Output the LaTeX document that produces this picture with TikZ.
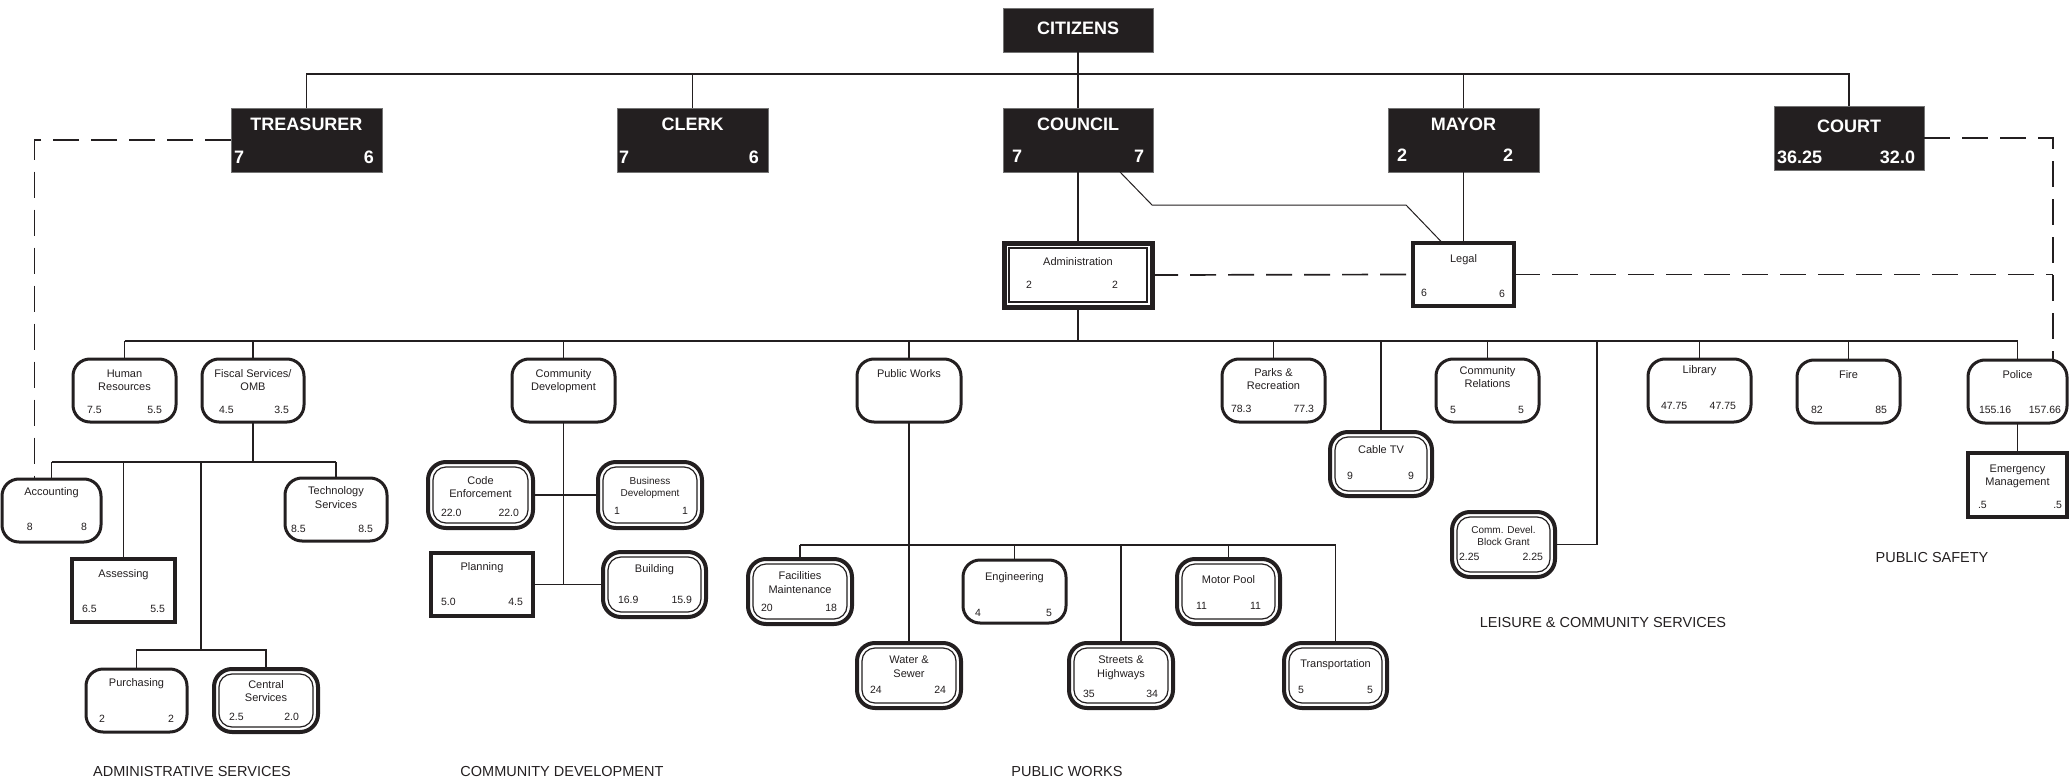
\documentclass[tikz,border=0pt]{standalone}
\usepackage{fontspec}
\setmainfont{Liberation Sans}
\usetikzlibrary{fit,calc}
\definecolor{ink}{RGB}{35,31,32}
\newcounter{lblc}
\tikzset{
  every node/.style={inner sep=0pt, outer sep=0pt},
  blk/.style={fill=ink, draw=black!55, line width=0.6pt},
  rs/.style={draw=ink, fill=white, line width=3pt, rounded corners=17pt},
  rd/.style={draw=ink, fill=white, line width=4pt, rounded corners=18pt},
  rdin/.style={draw=ink, line width=1.2pt, rounded corners=13pt},
  sq/.style={draw=ink, fill=white, line width=3.5pt},
  sqd/.style={draw=ink, fill=white, line width=5pt},
  sqdin/.style={draw=ink, line width=1.3pt},
  conn/.style={draw=ink, line width=1.6pt},
  thinconn/.style={draw=ink, line width=1pt},
  dashline/.style={draw=ink, line width=1.7pt, dash pattern=on 26pt off 12pt},
  bigt/.style={text=white, anchor=base, font=\fontsize{18}{20}\selectfont\bfseries},
  bigL/.style={bigt, anchor=base west},
  bigR/.style={bigt, anchor=base east},
  ttl/.style={text=ink, anchor=base, font=\fontsize{11}{13}\selectfont},
  ttls/.style={ttl, font=\fontsize{10}{12}\selectfont},
  numL/.style={text=ink, anchor=base west, font=\fontsize{10.5}{12}\selectfont},
  numR/.style={numL, anchor=base east},
  sec/.style={text=ink, anchor=base, font=\fontsize{14.5}{16}\selectfont},
}
\newcommand\tx[4][ttl]{\stepcounter{lblc}\node[#1] (t\arabic{lblc}) at (#2,#3) {#4};}
\newcommand\bx[6]{\node[#6, fit={(#2,#3)(#4,#5)}] (#1) {};}
\newcommand\dbx[5]{\bx{#1}{#2}{#3}{#4}{#5}{rd}\node[rdin, fit={(#2+5,#3+5)(#4-5,#5-5)}] (#1i) {};}
\begin{document}
\begin{tikzpicture}[x=1pt,y=-1pt]
\useasboundingbox (0,0) rectangle (2070,784);

% ---------- top level (black boxes)
\bx{cit}{1003}{8}{1153}{52}{blk}
\bx{tre}{231}{108}{382}{172}{blk}
\bx{clk}{617}{108}{768}{172}{blk}
\bx{cou}{1003}{108}{1153}{172}{blk}
\bx{may}{1388}{108}{1539}{172}{blk}
\bx{crt}{1774}{106}{1924}{170}{blk}

% ---------- second level
\bx{adm}{1004}{243}{1152}{307}{sqd}
\node[sqdin, fit={(1009,248)(1147,302)}] (admi) {};
\bx{leg}{1413}{243}{1514}{306}{sq}

% ---------- row 1
\bx{hr}{73}{359}{176}{422}{rs}
\bx{fis}{202}{359}{304}{422}{rs}
\bx{cd}{512}{359}{615}{422}{rs}
\bx{pw}{857}{359}{961}{422}{rs}
\bx{prk}{1222}{359}{1325}{422}{rs}
\bx{cr}{1436}{359}{1539}{422}{rs}
\bx{lib}{1648}{359}{1751}{422}{rs}
\bx{fir}{1797}{360}{1900}{423}{rs}
\bx{pol}{1968}{360}{2067}{423}{rs}

% ---------- administrative services
\bx{acc}{2}{479}{101}{542}{rs}
\bx{tec}{285}{478}{387}{541}{rs}
\bx{ass}{72}{559}{175}{622}{sq}
\bx{pur}{86}{669}{187}{732}{rs}
\dbx{cen}{214}{669}{318}{732}

% ---------- community development
\dbx{cod}{428}{462}{533}{528}
\dbx{bdv}{598}{462}{702}{528}
\bx{pla}{431}{553}{533}{616}{sq}
\dbx{bld}{603}{552}{706}{617}

% ---------- public works
\dbx{fac}{748}{559}{852}{624}
\bx{eng}{963}{560}{1066}{623}{rs}
\dbx{mot}{1177}{559}{1280}{624}
\dbx{wat}{857}{643}{961}{708}
\dbx{str}{1069}{643}{1173}{708}
\dbx{tra}{1284}{643}{1387}{708}

% ---------- leisure & community / safety
\dbx{cab}{1330}{432}{1432}{496}
\dbx{cdbg}{1452}{512}{1555}{577}
\bx{em}{1968}{453}{2067}{517}{sq}

% ---------- helper coordinates
\coordinate (topbus) at (0,74);
\coordinate (mainbus) at (0,341);
\coordinate (fisbus) at (0,462);
\coordinate (psub) at (201,650);
\coordinate (pwbus) at (0,545);
\coordinate (cdbgj) at (1597,544.5);
\coordinate (cl1) at (1152,205);
\coordinate (cl2) at (1406,205);
\coordinate (rdash) at (2053,0);

% ---------- connectors
\draw[conn] (tre.north) -- (tre.north |- topbus) -- (crt.north |- topbus) -- (crt.north);
\draw[conn] (clk.north) -- (clk.north |- topbus);
\draw[conn] (may.north) -- (may.north |- topbus);
\draw[conn] (cit.south) -- (cou.north);
\draw[conn] (cou.south) -- (adm.north);
\draw[conn] (may.south) -- (leg.north);
\draw[thinconn] ([xshift=42pt]cou.south) -- (cl1) -- (cl2) -- ([xshift=-21pt]leg.north);
\draw[conn] (adm.south) -- (adm.south |- mainbus);
\draw[conn] (hr.north |- mainbus) -- (pol.north |- mainbus);
\foreach \n in {hr,fis,cd,pw,prk,cab,cr,lib,fir,pol}
  \draw[conn] (\n.north) -- (\n.north |- mainbus);
\draw[conn] (cdbg.east) -- (cdbgj) -- (cdbgj |- mainbus);
% fiscal
\draw[conn] (fis.south) -- (fis.south |- fisbus);
\draw[conn] (acc.north |- fisbus) -- (tec.north |- fisbus);
\foreach \n in {acc,ass,tec}
  \draw[conn] (\n.north) -- (\n.north |- fisbus);
\draw[conn] (psub |- fisbus) -- (psub);
\draw[conn] (pur.north) -- (pur.north |- psub) -- (cen.north |- psub) -- (cen.north);
% community development
\draw[conn] (cd.south) -- (cd.south |- pla.east);
\draw[conn] (cod.east) -- (bdv.west);
\draw[conn] (pla.east) -- (bld.west);
% public works
\draw[conn] (pw.south) -- (wat.north);
\draw[conn] (fac.north |- pwbus) -- (tra.north |- pwbus);
\foreach \n in {fac,eng,mot,str,tra}
  \draw[conn] (\n.north) -- (\n.north |- pwbus);
% police
\draw[conn] (pol.south) -- (em.north);
% dashed links
\draw[dashline] (tre.west) -| ([xshift=-17pt]acc.north);
\draw[dashline] (crt.east) -| (rdash |- pol.north);
\draw[dashline] (adm.east) -- (leg.west);
\draw[dashline] (leg.east) -- (rdash |- leg.east);

% ---------- texts: black boxes
\tx[bigt]{1078}{35}{CITIZENS}
\tx[bigt]{306.5}{130}{TREASURER}
\tx[bigL]{234}{163}{7}\tx[bigR]{374}{163}{6}
\tx[bigt]{692.5}{130}{CLERK}
\tx[bigL]{619}{163}{7}\tx[bigR]{759}{163}{6}
\tx[bigt]{1078}{130}{COUNCIL}
\tx[bigL]{1012}{162}{7}\tx[bigR]{1144}{162}{7}
\tx[bigt]{1463.5}{130}{MAYOR}
\tx[bigL]{1397}{161}{2}\tx[bigR]{1513}{161}{2}
\tx[bigt]{1849}{132}{COURT}
\tx[bigL]{1777}{163}{36.25}\tx[bigR]{1915}{163}{32.0}

% ---------- texts: second level
\tx{1078}{265}{Administration}
\tx[numL]{1026}{288}{2}\tx[numR]{1118}{288}{2}
\tx{1463.5}{262}{Legal}
\tx[numL]{1421}{296}{6}\tx[numR]{1505}{297}{6}

% ---------- row 1
\tx{124.5}{377}{Human}\tx{124.5}{390}{Resources}
\tx[numL]{87}{413}{7.5}\tx[numR]{162}{413}{5.5}
\tx{253}{377}{Fiscal Services/}\tx{253}{390}{OMB}
\tx[numL]{219}{413}{4.5}\tx[numR]{289}{413}{3.5}
\tx{563.5}{377}{Community}\tx{563.5}{390}{Development}
\tx{909}{377}{Public Works}
\tx{1273.5}{376}{Parks \&}\tx{1273.5}{389}{Recreation}
\tx[numL]{1231}{412}{78.3}\tx[numR]{1314}{412}{77.3}
\tx{1487.5}{374}{Community}\tx{1487.5}{387}{Relations}
\tx[numL]{1450}{413}{5}\tx[numR]{1524}{413}{5}
\tx{1699.5}{373}{Library}
\tx[numL]{1661}{409}{47.75}\tx[numR]{1736}{409}{47.75}
\tx{1848.5}{378}{Fire}
\tx[numL]{1811}{413}{82}\tx[numR]{1887}{413}{85}
\tx{2017.5}{378}{Police}
\tx[numL]{1979}{413}{155.16}\tx[numR]{2061}{413}{157.66}

% ---------- administrative services
\tx{51.5}{495}{Accounting}
\tx[numL]{27}{530}{8}\tx[numR]{87}{530}{8}
\tx{336}{494}{Technology}\tx{336}{508}{Services}
\tx[numL]{291}{532}{8.5}\tx[numR]{373}{532}{8.5}
\tx{123.5}{577}{Assessing}
\tx[numL]{82}{612}{6.5}\tx[numR]{165}{612}{5.5}
\tx{136.5}{686}{Purchasing}
\tx[numL]{99}{722}{2}\tx[numR]{174}{722}{2}
\tx{266}{688}{Central}\tx{266}{701}{Services}
\tx[numL]{229}{720}{2.5}\tx[numR]{299}{720}{2.0}

% ---------- community development
\tx{480.5}{484}{Code}\tx{480.5}{497}{Enforcement}
\tx[numL]{441}{516}{22.0}\tx[numR]{519}{516}{22.0}
\tx[ttls]{650}{484}{Business}\tx[ttls]{650}{496}{Development}
\tx[numL]{614}{514}{1}\tx[numR]{688}{514}{1}
\tx{482}{570}{Planning}
\tx[numL]{441}{605}{5.0}\tx[numR]{523}{605}{4.5}
\tx{654.5}{572}{Building}
\tx[numL]{618}{603}{16.9}\tx[numR]{692}{603}{15.9}

% ---------- public works
\tx{800}{579}{Facilities}\tx{800}{593}{Maintenance}
\tx[numL]{761}{611}{20}\tx[numR]{837}{611}{18}
\tx{1014.5}{580}{Engineering}
\tx[numL]{975}{616}{4}\tx[numR]{1052}{616}{5}
\tx{1228.5}{583}{Motor Pool}
\tx[numL]{1196}{609}{11}\tx[numR]{1261}{609}{11}
\tx{909}{663}{Water \&}\tx{909}{677}{Sewer}
\tx[numL]{870}{693}{24}\tx[numR]{946}{693}{24}
\tx{1121}{663}{Streets \&}\tx{1121}{677}{Highways}
\tx[numL]{1083}{697}{35}\tx[numR]{1158}{697}{34}
\tx{1335.5}{667}{Transportation}
\tx[numL]{1298}{693}{5}\tx[numR]{1373}{693}{5}

% ---------- leisure & community / safety
\tx{1381}{453}{Cable TV}
\tx[numL]{1347}{479}{9}\tx[numR]{1414}{479}{9}
\tx[ttls]{1503.5}{533}{Comm. Devel.}\tx[ttls]{1503.5}{545}{Block Grant}
\tx[numL]{1459}{560}{2.25}\tx[numR]{1543}{560}{2.25}
\tx{2017.5}{472}{Emergency}\tx{2017.5}{485}{Management}
\tx[numL]{1978}{508}{.5}\tx[numR]{2062}{508}{.5}

% ---------- section labels
\tx[sec]{192}{776}{ADMINISTRATIVE SERVICES}
\tx[sec]{562}{776}{COMMUNITY DEVELOPMENT}
\tx[sec]{1067}{776}{PUBLIC WORKS}
\tx[sec]{1603}{627}{LEISURE \& COMMUNITY SERVICES}
\tx[sec]{1932}{562}{PUBLIC SAFETY}
\end{tikzpicture}
\end{document}
